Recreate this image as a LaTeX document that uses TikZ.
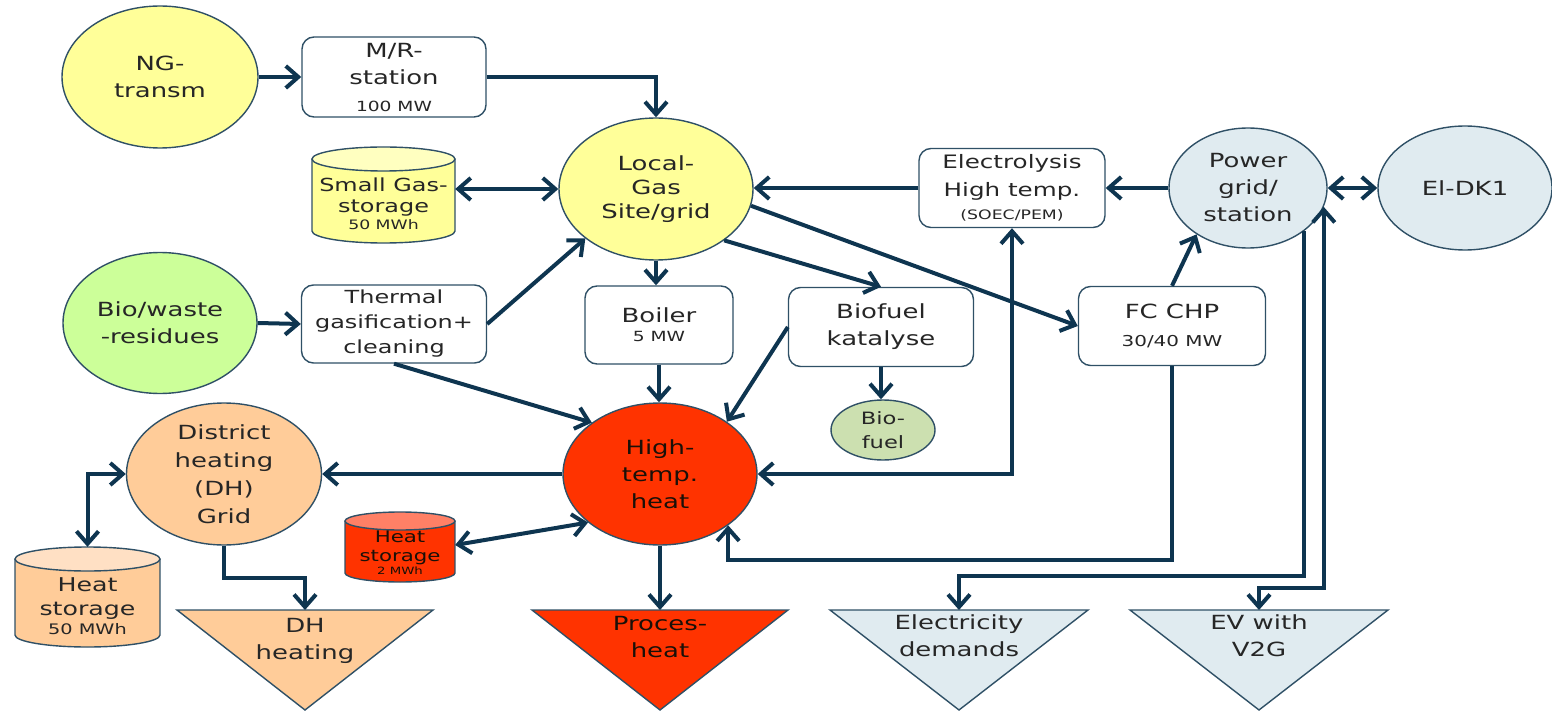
\documentclass[tikz,border=0pt]{standalone}
\usepackage{fontspec}
\setmainfont{DejaVu Sans}[FakeStretch=1.33]
\usetikzlibrary{arrows.meta,shapes.geometric}

\definecolor{flowc}{HTML}{0E3550}
\definecolor{edgec}{HTML}{2F5066}
\definecolor{gasY}{HTML}{FFFF99}
\definecolor{gasTop}{HTML}{FFFFC0}
\definecolor{bioG}{HTML}{CCFF99}
\definecolor{fuelG}{HTML}{CCE0B0}
\definecolor{dhO}{HTML}{FFCC99}
\definecolor{dhTop}{HTML}{FFE0C4}
\definecolor{hotR}{HTML}{FF3300}
\definecolor{hotTop}{HTML}{FF8066}
\definecolor{elB}{HTML}{E0EBF0}
\definecolor{txt}{HTML}{262626}
\definecolor{txtdark}{HTML}{1A1008}

\newcommand\mainsz{\fontsize{19.5}{27}\selectfont}
\newcommand\subsz{\fontsize{14}{16}\selectfont}

% storage tank outline: #1 left, #2 top, #3 right, #4 bottom, #5 lid half-height,
% #6 body colour, #7 lid colour
\newcommand\tank[7]{%
  \fill[#6] (#1,{#2+#5}) rectangle (#3,{#4-#5});
  \fill[#6] ({(#1+#3)/2},{#4-#5}) ellipse[x radius={(#3-#1)*0.5pt}, y radius={#5*1pt}];
  \draw[edgec, line width=1.4pt] (#1,{#2+#5}) -- (#1,{#4-#5})
     arc[start angle=180, end angle=360, x radius={(#3-#1)*0.5pt}, y radius={#5*1pt}]
     -- (#3,{#2+#5});
  \draw[edgec, line width=1.4pt, fill=#7] ({(#1+#3)/2},{#2+#5}) ellipse[x radius={(#3-#1)*0.5pt}, y radius={#5*1pt}];
}

\tikzset{
  hub/.style={ellipse, draw=edgec, line width=1.4pt, inner sep=0pt, align=center,
              text=txt, font=\mainsz},
  box/.style={rectangle, rounded corners=12pt, draw=edgec, line width=1.4pt, fill=white,
              inner sep=0pt, align=center, text=txt, font=\mainsz},
  tankbody/.style={rectangle, inner sep=0pt, align=center, text=txt},
  sink/.style={draw=edgec, line width=1.4pt, line join=miter},
  sinklabel/.style={inner sep=0pt, align=center, text=txt, font=\mainsz, anchor=north},
  tip/.tip={Straight Barb[length=12.5pt,width=22pt]},
  flow/.style={draw=flowc, line width=4pt, -tip},
  flow2/.style={draw=flowc, line width=4pt, tip-tip},
}

\begin{document}
\begin{tikzpicture}[x=1pt, y=-1pt]
\useasboundingbox (0,0) rectangle (1552,711);

% ---- demand triangles ----
\filldraw[sink, fill=dhO] (177,610) -- (433,610) -- (305,710) -- cycle;
\filldraw[sink, fill=hotR] (532,610) -- (788,610) -- (660,710) -- cycle;
\filldraw[sink, fill=elB] (830,610) -- (1088,610) -- (959,710) -- cycle;
\filldraw[sink, fill=elB] (1130,610) -- (1388,610) -- (1259,710) -- cycle;
\coordinate (dhhtop) at (305,610);
\coordinate (phtop) at (660,610);
\coordinate (edtop) at (959,610);
\coordinate (evtop) at (1259,610);
\node[sinklabel] (dhh) at (305,618) {DH\\heating};
\node[sinklabel, text=txtdark] (ph) at (660,616) {Proces-\\heat};
\node[sinklabel] (ed) at (959,614) {Electricity\\demands};
\node[sinklabel] (ev) at (1259,614) {EV with\\V2G};

% ---- storage tanks ----
\tank{312}{147}{455}{243}{12}{gasY}{gasTop}
\node[tankbody, font=\fontsize{18}{21}\selectfont, minimum width=143pt, minimum height=72pt] (gs)
  at (383.5,204) {Small Gas-\\storage\\[-4pt]{\fontsize{13}{14}\selectfont 50 MWh}};
\tank{15}{547}{160}{647}{12}{dhO}{dhTop}
\node[tankbody, font=\fontsize{19}{24}\selectfont, minimum width=145pt, minimum height=76pt] (hs)
  at (87.5,606) {Heat\\storage\\[-5pt]{\fontsize{14.5}{16}\selectfont 50 MWh}};
\tank{345}{512}{455}{582}{9}{hotR}{hotTop}
\node[tankbody, text=txtdark, font=\fontsize{16}{19}\selectfont, minimum width=110pt, minimum height=52pt] (hs2)
  at (400,553) {Heat\\storage\\[-6pt]{\fontsize{10}{11}\selectfont 2 MWh}};

% ---- hubs ----
\node[hub, fill=gasY, minimum width=196pt, minimum height=142pt] (ng) at (160,77) {NG-\\transm};
\node[hub, fill=gasY, minimum width=194pt, minimum height=142pt,
      font=\fontsize{19.5}{24}\selectfont] (lg) at (656,189) {Local-\\Gas\\Site/grid};
\node[hub, fill=bioG, minimum width=194pt, minimum height=141pt] (bw) at (160,323) {Bio/waste\\-residues};
\node[hub, fill=fuelG, minimum width=104pt, minimum height=60pt,
      font=\fontsize{17}{24}\selectfont] (bf) at (883,430) {Bio-\\fuel};
\node[hub, fill=hotR, text=txtdark, minimum width=194pt, minimum height=142pt] (ht) at (660,474) {High-\\temp.\\heat};
\node[hub, fill=dhO, minimum width=195pt, minimum height=142pt,
      font=\fontsize{19.5}{28}\selectfont] (dh) at (224,474) {District\\heating\\(DH)\\Grid};
\node[hub, fill=elB, minimum width=158pt, minimum height=120pt] (pg) at (1248,188) {Power\\grid/\\station};
\node[hub, fill=elB, minimum width=174pt, minimum height=124pt] (dk) at (1465,188) {El-DK1};

% ---- process boxes ----
\node[box, minimum width=184pt, minimum height=80pt] (mr) at (394,77) {M/R-\\station\\{\subsz 100 MW}};
\node[box, minimum width=185pt, minimum height=78pt, font=\fontsize{18}{25}\selectfont] (tg) at (394,324)
     {Thermal\\gasification+\\cleaning};
\node[box, minimum width=148pt, minimum height=78pt] (bo) at (659,325) {Boiler\\[-8pt]{\subsz 5 MW}};
\node[box, minimum width=185pt, minimum height=79pt] (bk) at (881,327) {Biofuel\\katalyse};
\node[box, minimum width=186pt, minimum height=79pt, font=\fontsize{18.5}{28}\selectfont] (el) at (1012,188)
     {Electrolysis\\High temp.\\[-5pt]{\fontsize{13}{15}\selectfont (SOEC/PEM)}};
\node[box, minimum width=187pt, minimum height=79pt, font=\fontsize{19.5}{28}\selectfont] (fc) at (1172,326)
     {FC CHP\\{\fontsize{15}{16}\selectfont 30/40 MW}};

% ---- gas side ----
\draw[flow] (ng.east) -- (mr.west);
\draw[flow] (mr.east) -| (lg.north);
\draw[flow2] (gs.east |- lg.west) -- (lg.west);
\draw[flow] (bw.east) -- (tg.west);
\draw[flow] (tg.east) -- (lg.215);
\draw[flow] (tg.south) -- (ht.143);
\draw[flow] (lg.south) -- (lg.south |- bo.north);
\draw[flow] (lg.-37) -- (bk.north);
\draw[flow] (lg.-10) -- (fc.west);
\draw[flow] (el.west) -- (el.west -| lg.east);

% ---- power side ----
\draw[flow] (pg.west) -- (el.east);
\draw[flow2] (pg.east) -- (dk.west);
\draw[flow] (fc.north) -- (pg.222);
\draw[flow] (pg.-38) |- ([yshift=34pt]edtop) -- (edtop);
\draw[flow2] (pg.-14) |- ([yshift=22pt]evtop) -- (evtop);
\draw[flow] (fc.south) |- ([yshift=-35pt]ht.-37) -- (ht.-37);
\draw[flow2] (ht.east) -| (el.south);

% ---- heat side ----
\draw[flow] (bo.south) -- (bo.south |- ht.north);
\draw[flow] (bk.west) -- (ht.38);
\draw[flow] (bk.south) -- (bk.south |- bf.north);
\draw[flow] (ht.west) -- (dh.east);
\draw[flow2] (dh.west) -| ([yshift=21pt]hs.north);
\draw[flow] (dh.south) |- ([yshift=32pt]dhhtop) -- (dhhtop);
\draw[flow2] ([yshift=8pt]hs2.east) -- (ht.214);
\draw[flow] (ht.south) -- (phtop);
\end{tikzpicture}
\end{document}
